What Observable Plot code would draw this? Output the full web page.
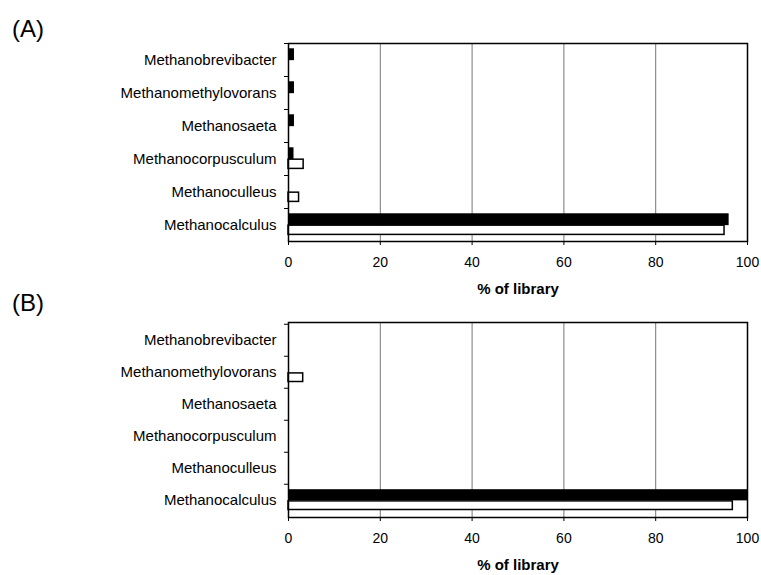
<!DOCTYPE html>
<html>
<head>
<meta charset="utf-8">
<script src="https://cdn.jsdelivr.net/npm/d3@7"></script>
<script src="https://cdn.jsdelivr.net/npm/@observablehq/plot@0.6"></script>
<style>
  html, body { margin: 0; padding: 0; background: #fff; }
  #wrap { position: relative; width: 761px; height: 575px; overflow: hidden; font-family: "Liberation Sans", Arial, sans-serif; background: #fff; }
  .panel { position: absolute; left: 0; }
  .panel svg { background: transparent !important; }
  .plabel { position: absolute; left: 12px; font-size: 24px; color: #000; z-index: 5; }
</style>
</head>
<body>
<div id="wrap">
  <div class="panel" id="pa" style="top:0px"></div>
  <div class="panel" id="pb" style="top:280px"></div>
  <div class="plabel" style="top:15px">(A)</div>
  <div class="plabel" style="top:289px">(B)</div>
</div>
<script>
const categories = ["Methanobrevibacter", "Methanomethylovorans", "Methanosaeta", "Methanocorpusculum", "Methanoculleus", "Methanocalculus"];
const xTicks = [0, 20, 40, 60, 80, 100];
const gridTicks = [20, 40, 60, 80];
const axisTitle = "% of library";

// Panel A
const aBlack = [1.3, 1.3, 1.3, 1.2, 0, 96];
const aWhite = [0, 0, 0, 3.3, 2.3, 95];
// Panel B
const bBlack = [0, 0, 0, 0, 0, 100];
const bWhite = [0, 3.2, 0, 0, 0, 96.8];

function panel(blackVals, whiteVals, opts) {
  const black = categories.map((c, i) => ({cat: c, v: blackVals[i]})).filter(d => d.v > 0);
  const white = categories.map((c, i) => ({cat: c, v: whiteVals[i]})).filter(d => d.v > 0);
  const step = (opts.height - opts.top - opts.bottom) / categories.length;
  return Plot.plot({
    width: 761,
    height: opts.height,
    marginTop: opts.top,
    marginBottom: opts.bottom,
    marginLeft: 288,
    marginRight: 14,
    style: {fontFamily: '"Liberation Sans", Arial, sans-serif', fontSize: "14px", color: "#000", background: "transparent"},
    x: {domain: [0, 100]},
    y: {domain: categories, padding: 0},
    marks: [
      Plot.gridX(gridTicks, {stroke: "#777", strokeOpacity: 1, strokeWidth: 1}),
      Plot.barX(black, {y: "cat", x: "v", fill: "#000", insetTop: step * 0.16, insetBottom: step * 0.48}),
      Plot.barX(white, {y: "cat", x: "v", fill: "#fff", stroke: "#000", strokeWidth: 1.5, insetTop: step * 0.52, insetBottom: step * 0.2}),
      Plot.frame({stroke: "#000", strokeWidth: 1.5}),
      Plot.axisX({ticks: xTicks, tickSize: 4, tickPadding: 12, label: null, fontSize: 14, tickFormat: d => String(d)}),
      Plot.axisY({tickSize: 0, tickPadding: 12, label: null, fontSize: 15}),
      Plot.axisY({tickSize: 4, text: null, label: null, dy: -step / 2}),
      Plot.text([axisTitle], {frameAnchor: "bottom", dy: 52, fontWeight: "bold", fontSize: 15})
    ]
  });
}

document.getElementById("pa").appendChild(panel(aBlack, aWhite, {height: 300, top: 43, bottom: 59}));
document.getElementById("pb").appendChild(panel(bBlack, bWhite, {height: 295, top: 42, bottom: 58}));
</script>
</body>
</html>
